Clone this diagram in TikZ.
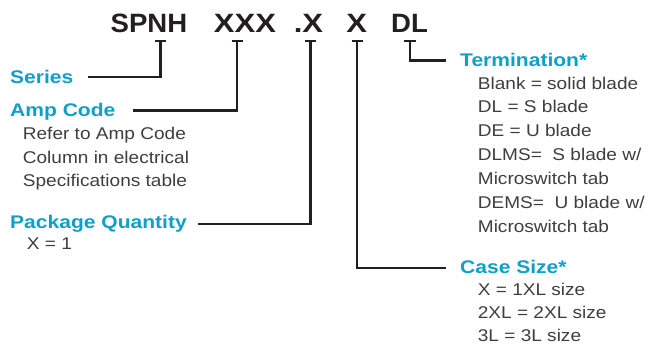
\documentclass[tikz,border=0pt]{standalone}
\usepackage{fontspec}
\newfontfamily\labfont[FakeStretch=1.15]{Liberation Sans}
\newfontfamily\bodyfont[FakeStretch=1.12]{Liberation Sans}
\newfontfamily\codefamily[FakeStretch=1.04]{Liberation Sans}
\newfontfamily\codewide[FakeStretch=1.17]{Liberation Sans}
\definecolor{tealc}{RGB}{14,160,200}
\definecolor{inkc}{RGB}{35,31,32}
\definecolor{bodyc}{RGB}{62,62,62}
\tikzset{
  codetext/.style={inkc, inner sep=0pt, anchor=base, font=\codefamily\bfseries\fontsize{26.5}{30}\selectfont},
  codexs/.style={codetext, font=\codewide\bfseries\fontsize{26.5}{30}\selectfont},
  labtext/.style={tealc, inner sep=0pt, anchor=base west, font=\labfont\bfseries\fontsize{18.3}{21}\selectfont},
  bodytext/.style={bodyc, inner sep=0pt, anchor=base west, font=\bodyfont\fontsize{17}{20}\selectfont},
  conn/.style={inkc, line width=2.6pt},
}
\begin{document}
\begin{tikzpicture}[x=1pt,y=-1pt]
\useasboundingbox (0,0) rectangle (660,345);
% code
\node[codetext] (cS) at (149,33) {SPNH};
\node[codexs] (cA) at (245,33) {XXX};
\node[codexs] (cP) at (308.5,33) {.X};
\node[codexs] (cC) at (356.7,33) {X};
\node[codetext] (cT) at (409.5,33) {DL};
% labels
\node[labtext] (lS) at (10,83) {Series};
\node[labtext] (lA) at (10,116) {Amp Code};
\node[labtext] (lP) at (10,228) {Package Quantity};
\node[labtext] (lT) at (460,66) {Termination*};
\node[labtext] (lC) at (460,273) {Case Size*};
% body
\node[bodytext] (a1) at (22.7,139) {Refer to Amp Code};
\node[bodytext] (a2) at (22.7,163) {Column in electrical};
\node[bodytext] (a3) at (22.7,186.5) {Specifications table};
\node[bodytext] (p1) at (26.7,249) {X = 1};
\node[bodytext] (t1) at (477.7,89) {Blank = solid blade};
\node[bodytext] (t2) at (477.7,112.7) {DL = S blade};
\node[bodytext] (t3) at (477.7,136.6) {DE = U blade};
\node[bodytext] (t4) at (477.7,160.5) {DLMS=\ \ S blade w/};
\node[bodytext] (t5) at (477.7,184.3) {Microswitch tab};
\node[bodytext] (t6) at (477.7,208.2) {DEMS=\ \ U blade w/};
\node[bodytext] (t7) at (477.7,232.1) {Microswitch tab};
\node[bodytext] (s1) at (477.7,295) {X = 1XL size};
\node[bodytext] (s2) at (477.7,318.4) {2XL = 2XL size};
\node[bodytext] (s3) at (477.7,341.8) {3L = 3L size};
% connector coordinates
\coordinate (tS) at (160.5,41);
\coordinate (tA) at (237,41);
\coordinate (tP) at (310.5,41);
\coordinate (tC) at (357,41);
\coordinate (tT) at (410,41);
\coordinate (eS) at (88,77);
\coordinate (eA) at (133,110.5);
\coordinate (eP) at (198,224);
\coordinate (eC) at (446,268);
\coordinate (eT) at (445.5,60.5);
% T bars
\foreach \c in {tS,tA,tP,tC}{
  \draw[conn] ([xshift=-5.5pt]\c) -- ([xshift=5.5pt]\c);
}
\draw[conn] ([xshift=-6pt]tT) -- ([xshift=6pt]tT);
% connectors
\draw[conn] (tS) |- (eS);
\draw[conn] (tA) |- (eA);
\draw[conn] (tP) |- (eP);
\draw[conn] (tC) |- (eC);
\draw[conn] (tT) |- (eT);
\end{tikzpicture}
\end{document}
